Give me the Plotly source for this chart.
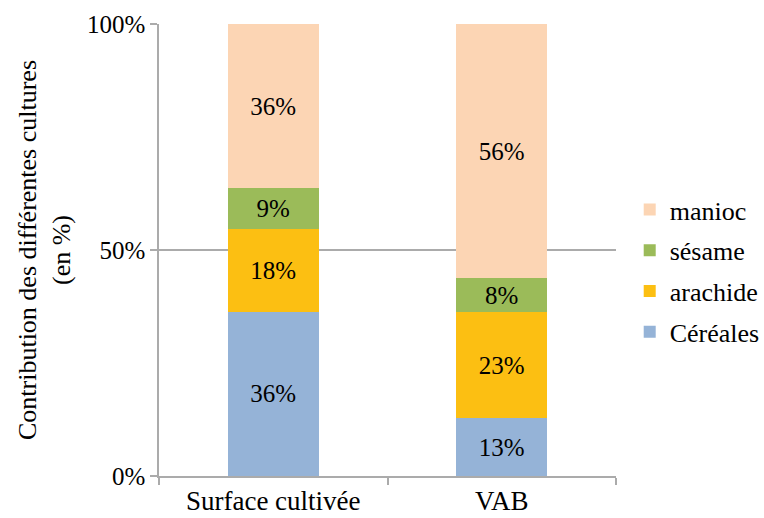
import plotly.graph_objects as go

categories = ["Surface cultivée", "VAB"]
series_names = ["Céréales", "arachide", "sésame", "manioc"]
legend_ranks = [4, 3, 2, 1]
cereales = [36.36, 12.8]
arachide = [18.18, 23.4]
sesame = [9.09, 7.6]
manioc = [36.36, 56.2]
y_ticks = [0, 50, 100]
y_tick_labels = ["0%", "50%", "100%"]
y_title = "Contribution des différentes cultures<br>(en %)"

colors = ["#95B3D7", "#FCBF12", "#9BBB59", "#FCD5B4"]
series_values = [cereales, arachide, sesame, manioc]

FONT = "Liberation Serif"

fig = go.Figure()
for name, vals, col, rk in zip(series_names, series_values, colors, legend_ranks):
    fig.add_trace(go.Bar(
        x=categories, y=vals, name=name, legendgroup=name, legendrank=rk,
        marker=dict(color=col, line=dict(width=0)),
        text=[f"{round(v)}%" for v in vals],
        textposition="inside", insidetextanchor="middle", textangle=0,
        textfont=dict(family=FONT, size=25, color="black"),
        width=0.4,
    ))

fig.update_layout(
    barmode="stack",
    width=764, height=518,
    margin=dict(l=159, r=148, t=24, b=42, autoexpand=False),
    paper_bgcolor="white", plot_bgcolor="white",
    font=dict(family=FONT, size=24, color="black"),
    legend=dict(
        x=1.03, xanchor="left", y=0.4535, yanchor="middle",
        traceorder="grouped", tracegroupgap=4,
        font=dict(family=FONT, size=26, color="black"),
    ),
    showlegend=True,
    yaxis=dict(
        range=[0, 100], tickmode="array", tickvals=y_ticks, ticktext=y_tick_labels,
        showgrid=True, gridcolor="#ABABAB", gridwidth=1.5,
        showline=True, linecolor="#ABABAB", linewidth=1.5,
        ticks="outside", ticklen=7, tickcolor="#ABABAB", tickwidth=1.5,
        zeroline=False,
        tickfont=dict(family=FONT, size=25, color="black"),
        title=dict(text=y_title, font=dict(family=FONT, size=26, color="black"), standoff=9),
    ),
    xaxis=dict(
        showline=True, linecolor="#ABABAB", linewidth=1.5,
        ticks="outside", ticklen=7, tickcolor="#ABABAB", tickwidth=1.5,
        tickson="boundaries",
        tickfont=dict(family=FONT, size=27, color="black"),
    ),
)

fig.write_html(
    "out.html",
    config={"displayModeBar": False},
    post_script="document.body.style.margin='0';document.body.style.overflow='hidden';",
)
